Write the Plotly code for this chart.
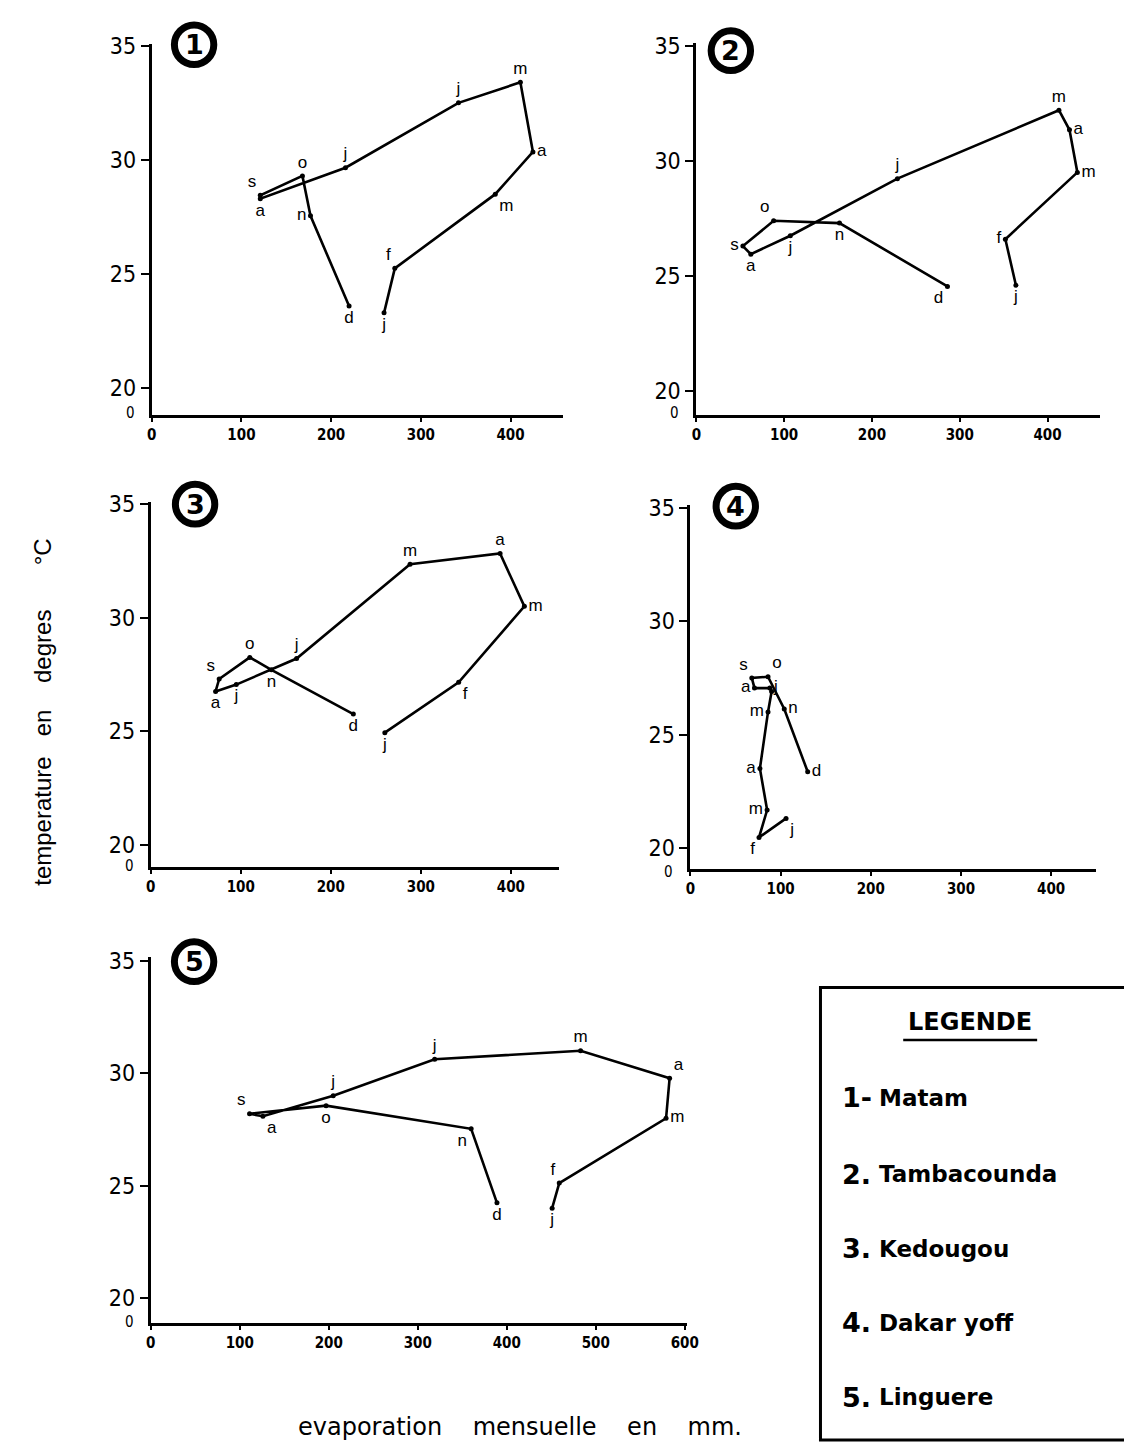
import plotly.graph_objects as go

W, H = 1124, 1445

# ---------------- data ----------------
months = ["j", "f", "m", "a", "m", "j", "j", "a", "s", "o", "n", "d"]

matam_evap = [259, 271, 383, 425, 411, 342, 216, 121, 121, 168, 177, 220]
matam_temp = [23.3, 25.25, 28.5, 30.35, 33.4, 32.5, 29.66, 28.3, 28.45, 29.3, 27.55, 23.6]

tamba_evap = [364, 352, 434, 425, 413, 229, 107, 62, 53, 88, 163, 286]
tamba_temp = [24.6, 26.6, 29.5, 31.35, 32.2, 29.23, 26.75, 25.95, 26.3, 27.4, 27.3, 24.55]

kedougou_evap = [260, 342, 415, 388, 288, 162, 95, 72, 76, 110, 134, 225]
kedougou_temp = [24.93, 27.15, 30.5, 32.83, 32.36, 28.2, 27.05, 26.75, 27.3, 28.25, 27.7, 25.75]

dakar_evap = [106, 76, 85, 77, 86, 90, 88, 71, 68, 86, 104, 130]
dakar_temp = [21.3, 20.46, 21.67, 23.5, 26.0, 26.9, 27.05, 27.05, 27.5, 27.55, 26.13, 23.36]
dakar_labels = ["j", "f", "m", "a", "m", "", "j", "a", "s", "o", "n", "d"]

linguere_evap = [451, 459, 579, 583, 483, 319, 205, 126, 111, 197, 360, 389]
linguere_temp = [24.0, 25.12, 28.0, 29.78, 31.0, 30.62, 29.0, 28.09, 28.2, 28.56, 27.53, 24.24]

y_ticks = [20, 25, 30, 35]
x_ticks_4 = [0, 100, 200, 300, 400]
x_ticks_6 = [0, 100, 200, 300, 400, 500, 600]

stations = ["Matam", "Tambacounda", "Kedougou", "Dakar yoff", "Linguere"]
station_nums = ["1", "2", "3", "4", "5"]
legend_seps = ["-", ".", ".", ".", "."]

# ---------------- layout config (pixels) ----------------
panels = [
    dict(x=matam_evap, y=matam_temp, labels=months, xticks=x_ticks_4, zshift=2,
         xpx=(149, 567), ypx=(33, 407), xr=(0, 459), yr=(18.83, 35.09), circ=(192, 34),
         pos=["bottom center", "top left", "bottom right", "middle right", "top center", "top center",
              "top center", "bottom center", "top left", "top center", "middle left", "bottom center"]),
    dict(x=tamba_evap, y=tamba_temp, labels=months, xticks=x_ticks_4, zshift=2,
         xpx=(702, 1112), ypx=(32, 407), xr=(0, 460), yr=(18.97, 35.13), circ=(737, 40),
         pos=["bottom center", "middle left", "middle right", "middle right", "top center", "top center",
              "bottom center", "bottom center", "middle left", "top left", "bottom center", "bottom left"]),
    dict(x=kedougou_evap, y=kedougou_temp, labels=months, xticks=x_ticks_4, zshift=1,
         xpx=(148, 563), ypx=(495, 863), xr=(0, 454), yr=(18.99, 35.09), circ=(193, 497),
         pos=["bottom center", "bottom right", "middle right", "top center", "top center", "top center",
              "bottom center", "bottom center", "top left", "top center", "bottom center", "bottom center"]),
    dict(x=dakar_evap, y=dakar_temp, labels=dakar_labels, xticks=x_ticks_4, zshift=-3,
         xpx=(696, 1108), ypx=(498, 865), xr=(0, 450), yr=(19.05, 35.12), circ=(742, 499),
         pos=["bottom right", "bottom left", "middle left", "middle left", "middle left", "middle right",
              "middle right", "middle left", "top left", "top right", "middle right", "middle right"]),
    dict(x=linguere_evap, y=linguere_temp, labels=months, xticks=x_ticks_6, zshift=1,
         xpx=(148, 692), ypx=(953, 1322), xr=(0, 602), yr=(18.9, 35.18), circ=(192, 958),
         pos=["bottom center", "top left", "middle right", "top right", "top center", "top center",
              "top center", "bottom right", "top left", "bottom center", "bottom left", "bottom center"]),
]

TICK_FONT = dict(family="DejaVu Sans Condensed, Liberation Sans Narrow, DejaVu Sans", size=23, color="black")
ZERO_FONT = dict(family="DejaVu Sans Condensed, Liberation Sans Narrow, DejaVu Sans", size=15, color="black")
XTICK_FONT = dict(family="DejaVu Sans Condensed, DejaVu Sans", size=15, color="black", weight="bold")
LABEL_FONT = dict(family="Liberation Sans, Arial", size=17, color="black")

fig = go.Figure()
shapes = []
annotations = []
layout = dict(width=W, height=H, margin=dict(l=0, r=0, t=0, b=0),
              paper_bgcolor="white", plot_bgcolor="white", showlegend=False)

for i, p in enumerate(panels):
    n = "" if i == 0 else str(i + 1)
    xa, ya = "x" + n, "y" + n
    fig.add_trace(go.Scatter(
        x=p["x"], y=p["y"], text=p["labels"], mode="lines+markers+text",
        textposition=p["pos"], textfont=LABEL_FONT,
        line=dict(color="black", width=2.6), marker=dict(color="black", size=5),
        cliponaxis=False, xaxis=xa, yaxis=ya, hoverinfo="skip"))
    layout["xaxis" + n] = dict(
        domain=[p["xpx"][0] / W, p["xpx"][1] / W], range=list(p["xr"]), anchor=ya,
        showgrid=False, zeroline=False, showline=True, linecolor="black", linewidth=3,
        ticks="outside", ticklen=4, tickwidth=2, tickcolor="black",
        tickvals=p["xticks"], ticktext=[str(v) for v in p["xticks"]], tickfont=XTICK_FONT)
    layout["yaxis" + n] = dict(
        domain=[1 - p["ypx"][1] / H, 1 - p["ypx"][0] / H], range=list(p["yr"]), anchor=xa,
        showgrid=False, zeroline=False, showline=True, linecolor="black", linewidth=3,
        ticks="outside", ticklen=8, tickwidth=2, tickcolor="black",
        tickvals=y_ticks, ticktext=[str(v) for v in y_ticks], tickfont=TICK_FONT)
    # "0" at the foot of the broken temperature axis
    annotations.append(dict(text="0", xref=xa + " domain", yref=ya + " domain", x=0, y=0,
                            xanchor="right", yanchor="middle", xshift=-15, yshift=p["zshift"],
                            showarrow=False, font=ZERO_FONT))
    # circled panel number
    cx, cy = p["circ"]
    r = 20
    shapes.append(dict(type="circle", xref="paper", yref="paper",
                       x0=(cx - r) / W, x1=(cx + r) / W, y0=1 - (cy + r) / H, y1=1 - (cy - r) / H,
                       line=dict(color="black", width=7), fillcolor="white"))
    annotations.append(dict(text="<b>%s</b>" % station_nums[i], xref="paper", yref="paper",
                            x=cx / W, y=1 - cy / H, xanchor="center", yanchor="middle",
                            showarrow=False, font=dict(family="DejaVu Sans", size=27, color="black")))

# axis titles
annotations.append(dict(text="temperature   en    degres", xref="paper", yref="paper",
                        x=38 / W, y=1 - 742 / H, textangle=-90, showarrow=False,
                        xanchor="center", yanchor="middle",
                        font=dict(family="Liberation Sans, Arial", size=24, color="black")))
annotations.append(dict(text="°C", xref="paper", yref="paper",
                        x=38 / W, y=1 - 545 / H, textangle=-90, showarrow=False,
                        xanchor="center", yanchor="middle",
                        font=dict(family="Liberation Sans, Arial", size=24, color="black")))
annotations.append(dict(text="evaporation    mensuelle    en    mm.", xref="paper", yref="paper",
                        x=523 / W, y=1 - 1427 / H, showarrow=False,
                        xanchor="center", yanchor="middle",
                        font=dict(family="DejaVu Sans", size=24, color="black")))

# legend box
shapes.append(dict(type="rect", xref="paper", yref="paper",
                   x0=828 / W, x1=1140 / W, y0=1 - 1440 / H, y1=1 - 984 / H,
                   line=dict(color="black", width=3)))
annotations.append(dict(text="<b>LEGENDE</b>", xref="paper", yref="paper",
                        x=980 / W, y=1 - 1019 / H, showarrow=False,
                        xanchor="center", yanchor="middle",
                        font=dict(family="DejaVu Sans", size=24, color="black")))
shapes.append(dict(type="line", xref="paper", yref="paper",
                   x0=912 / W, x1=1048 / W, y0=1 - 1037 / H, y1=1 - 1037 / H,
                   line=dict(color="black", width=2.5)))
leg_y = [1095, 1172, 1247, 1322, 1397]
for k, name in enumerate(stations):
    annotations.append(dict(text="<b>%s%s</b>" % (station_nums[k], legend_seps[k]),
                            xref="paper", yref="paper", x=848 / W, y=1 - leg_y[k] / H,
                            xanchor="left", yanchor="middle", showarrow=False,
                            font=dict(family="DejaVu Sans", size=27, color="black")))
    annotations.append(dict(text="<b>%s</b>" % name,
                            xref="paper", yref="paper", x=885 / W, y=1 - leg_y[k] / H,
                            xanchor="left", yanchor="middle", showarrow=False,
                            font=dict(family="DejaVu Sans", size=23, color="black")))

layout["shapes"] = shapes
layout["annotations"] = annotations
fig.update_layout(**layout)
fig.write_html("out.html", config={"displayModeBar": False},
               post_script="document.body.style.margin='0px';document.body.style.overflow='hidden';")
